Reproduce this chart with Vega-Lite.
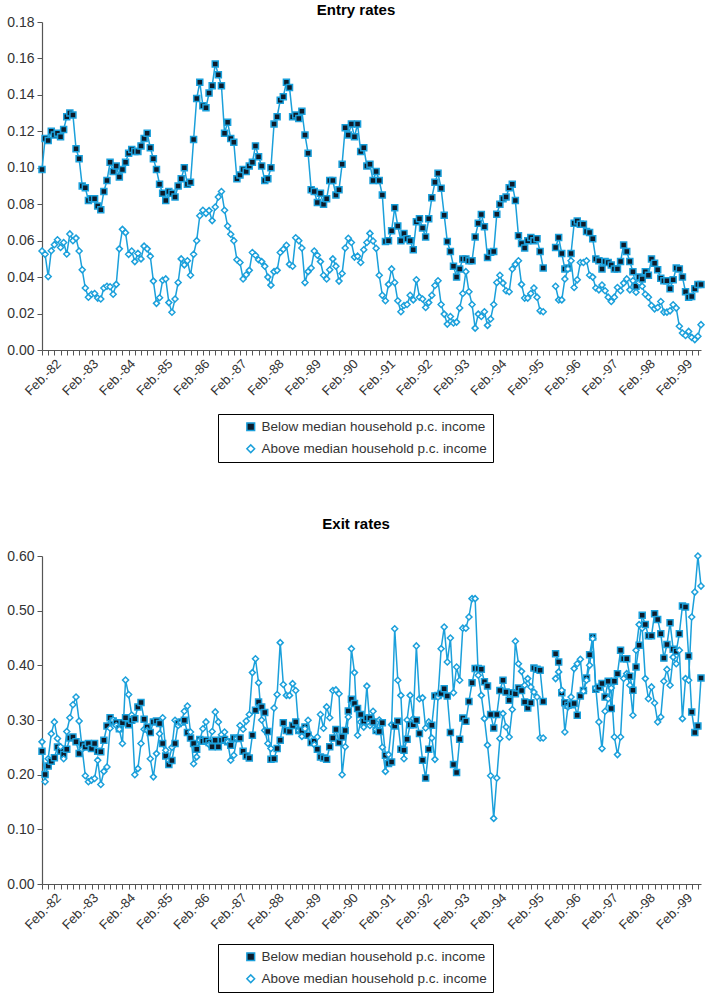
{
  "$schema": "https://vega.github.io/schema/vega-lite/v6.json",
  "padding": {"left": 5, "top": 3, "right": 4, "bottom": 2},
  "config": {
    "font": "Liberation Sans",
    "view": {"stroke": null},
    "axis": {"domainColor": "#555", "tickColor": "#555", "labelColor": "#333", "labelFont": "Liberation Sans", "grid": false, "tickSize": 5, "title": null, "domainWidth": 1.2},
    "title": {"font": "Liberation Sans", "fontSize": 15, "fontWeight": "bold", "color": "#000", "frame": "bounds", "anchor": "middle"}
  },
  "datasets": {
    "entry": [
{"m":0,"below":0.099,"above":0.0543},{"m":1,"below":0.116,"above":0.0525},{"m":2,"below":0.115,"above":0.0403},{"m":3,"below":0.120,"above":0.0545},{"m":4,"below":0.118,"above":0.0578},{"m":5,"below":0.119,"above":0.0605},{"m":6,"below":0.117,"above":0.0563},{"m":7,"below":0.121,"above":0.059},{"m":8,"below":0.128,"above":0.0527},{"m":9,"below":0.130,"above":0.0637},
{"m":10,"below":0.129,"above":0.060},{"m":11,"below":0.1105,"above":0.0614},{"m":12,"below":0.105,"above":0.0543},{"m":13,"below":0.090,"above":0.044},{"m":14,"below":0.089,"above":0.034},{"m":15,"below":0.082,"above":0.029},{"m":16,"below":0.083,"above":0.0306},{"m":17,"below":0.083,"above":0.031},{"m":18,"below":0.079,"above":0.0285},{"m":19,"below":0.077,"above":0.028},
{"m":20,"below":0.087,"above":0.034},{"m":21,"below":0.093,"above":0.035},{"m":22,"below":0.103,"above":0.0347},{"m":23,"below":0.098,"above":0.0306},{"m":24,"below":0.101,"above":0.036},{"m":25,"below":0.095,"above":0.0555},{"m":26,"below":0.099,"above":0.0662},{"m":27,"below":0.103,"above":0.0644},{"m":28,"below":0.108,"above":0.0525},{"m":29,"below":0.110,"above":0.0543},
{"m":30,"below":0.109,"above":0.0485},{"m":31,"below":0.109,"above":0.053},{"m":32,"below":0.112,"above":0.050},{"m":33,"below":0.116,"above":0.057},{"m":34,"below":0.119,"above":0.0555},{"m":35,"below":0.111,"above":0.0515},{"m":36,"below":0.105,"above":0.0378},{"m":37,"below":0.099,"above":0.0256},{"m":38,"below":0.091,"above":0.0287},{"m":39,"below":0.086,"above":0.0383},
{"m":40,"below":0.082,"above":0.039},{"m":41,"below":0.087,"above":0.026},{"m":42,"below":0.086,"above":0.0207},{"m":43,"below":0.084,"above":0.028},{"m":44,"below":0.090,"above":0.037},{"m":45,"below":0.094,"above":0.050},{"m":46,"below":0.100,"above":0.0467},{"m":47,"below":0.091,"above":0.049},{"m":48,"below":0.092,"above":0.041},{"m":49,"below":0.1155,"above":0.0525},
{"m":50,"below":0.138,"above":0.060},{"m":51,"below":0.147,"above":0.0737},{"m":52,"below":0.134,"above":0.0767},{"m":53,"below":0.133,"above":0.075},{"m":54,"below":0.141,"above":0.0765},{"m":55,"below":0.145,"above":0.071},{"m":56,"below":0.157,"above":0.0785},{"m":57,"below":0.151,"above":0.084},{"m":58,"below":0.145,"above":0.087},{"m":59,"below":0.119,"above":0.0767},
{"m":60,"below":0.125,"above":0.068},{"m":61,"below":0.116,"above":0.0635},{"m":62,"below":0.114,"above":0.060},{"m":63,"below":0.094,"above":0.0495},{"m":64,"below":0.096,"above":0.048},{"m":65,"below":0.099,"above":0.039},{"m":66,"below":0.098,"above":0.0413},{"m":67,"below":0.101,"above":0.0437},{"m":68,"below":0.103,"above":0.0535},{"m":69,"below":0.112,"above":0.052},
{"m":70,"below":0.106,"above":0.0495},{"m":71,"below":0.101,"above":0.0485},{"m":72,"below":0.093,"above":0.046},{"m":73,"below":0.094,"above":0.040},{"m":74,"below":0.100,"above":0.0356},{"m":75,"below":0.124,"above":0.043},{"m":76,"below":0.128,"above":0.0437},{"m":77,"below":0.137,"above":0.0535},{"m":78,"below":0.139,"above":0.0553},{"m":79,"below":0.147,"above":0.0575},
{"m":80,"below":0.144,"above":0.047},{"m":81,"below":0.128,"above":0.046},{"m":82,"below":0.129,"above":0.0616},{"m":83,"below":0.127,"above":0.060},{"m":84,"below":0.131,"above":0.056},{"m":85,"below":0.118,"above":0.037},{"m":86,"below":0.108,"above":0.043},{"m":87,"below":0.088,"above":0.045},{"m":88,"below":0.087,"above":0.0543},{"m":89,"below":0.081,"above":0.052},
{"m":90,"below":0.086,"above":0.0485},{"m":91,"below":0.080,"above":0.041},{"m":92,"below":0.083,"above":0.039},{"m":93,"below":0.093,"above":0.044},{"m":94,"below":0.093,"above":0.050},{"m":95,"below":0.085,"above":0.046},{"m":96,"below":0.088,"above":0.0378},{"m":97,"below":0.102,"above":0.042},{"m":98,"below":0.122,"above":0.056},{"m":99,"below":0.118,"above":0.0613},
{"m":100,"below":0.124,"above":0.059},{"m":101,"below":0.117,"above":0.051},{"m":102,"below":0.124,"above":0.0515},{"m":103,"below":0.109,"above":0.048},{"m":104,"below":0.111,"above":0.055},{"m":105,"below":0.101,"above":0.059},{"m":106,"below":0.102,"above":0.064},{"m":107,"below":0.093,"above":0.0598},{"m":108,"below":0.098,"above":0.0558},{"m":109,"below":0.093,"above":0.041},
{"m":110,"below":0.085,"above":0.030},{"m":111,"below":0.0595,"above":0.027},{"m":112,"below":0.060,"above":0.036},{"m":113,"below":0.0655,"above":0.0445},{"m":114,"below":0.078,"above":0.037},{"m":115,"below":0.068,"above":0.027},{"m":116,"below":0.060,"above":0.021},{"m":117,"below":0.064,"above":0.0244},{"m":118,"below":0.061,"above":0.025},{"m":119,"below":0.060,"above":0.030},
{"m":120,"below":0.055,"above":0.0275},{"m":121,"below":0.0704,"above":0.0385},{"m":122,"below":0.072,"above":0.029},{"m":123,"below":0.067,"above":0.028},{"m":124,"below":0.062,"above":0.0233},{"m":125,"below":0.072,"above":0.026},{"m":126,"below":0.0835,"above":0.030},{"m":127,"below":0.092,"above":0.0354},{"m":128,"below":0.097,"above":0.038},{"m":129,"below":0.0887,"above":0.025},
{"m":130,"below":0.074,"above":0.0197},{"m":131,"below":0.0595,"above":0.0142},{"m":132,"below":0.054,"above":0.0184},{"m":133,"below":0.046,"above":0.0148},{"m":134,"below":0.040,"above":0.0153},{"m":135,"below":0.0445,"above":0.023},{"m":136,"below":0.050,"above":0.031},{"m":137,"below":0.050,"above":0.043},{"m":138,"below":0.049,"above":0.032},{"m":139,"below":0.049,"above":0.025},
{"m":140,"below":0.062,"above":0.012},{"m":141,"below":0.0695,"above":0.0197},{"m":142,"below":0.0744,"above":0.0184},{"m":143,"below":0.0677,"above":0.021},{"m":144,"below":0.0507,"above":0.0135},{"m":145,"below":0.0536,"above":0.017},{"m":146,"below":0.054,"above":0.025},{"m":147,"below":0.0745,"above":0.037},{"m":148,"below":0.080,"above":0.041},{"m":149,"below":0.083,"above":0.0367},
{"m":150,"below":0.084,"above":0.0325},{"m":151,"below":0.089,"above":0.032},{"m":152,"below":0.091,"above":0.0445},{"m":153,"below":0.082,"above":0.047},{"m":154,"below":0.0627,"above":0.049},{"m":155,"below":0.0585,"above":0.036},{"m":156,"below":0.056,"above":0.0285},{"m":157,"below":0.060,"above":0.0285},{"m":158,"below":0.0617,"above":0.031},{"m":159,"below":0.060,"above":0.034},
{"m":160,"below":0.061,"above":0.029},{"m":161,"below":0.054,"above":0.0215},{"m":162,"below":0.045,"above":0.021},{"m":163,"below":null,"above":null},{"m":164,"below":null,"above":null},{"m":165,"below":null,"above":null},{"m":166,"below":0.0562,"above":0.035},{"m":167,"below":0.0617,"above":0.0275},{"m":168,"below":0.053,"above":0.0275},{"m":169,"below":0.0445,"above":0.039},
{"m":170,"below":0.045,"above":0.0445},{"m":171,"below":0.053,"above":0.049},{"m":172,"below":0.0695,"above":0.0343},{"m":173,"below":0.0708,"above":0.0385},{"m":174,"below":0.069,"above":0.048},{"m":175,"below":0.069,"above":0.048},{"m":176,"below":0.065,"above":0.049},{"m":177,"below":0.0645,"above":0.041},{"m":178,"below":0.061,"above":0.040},{"m":179,"below":0.050,"above":0.034},
{"m":180,"below":0.049,"above":0.033},{"m":181,"below":0.0445,"above":0.0357},{"m":182,"below":0.0485,"above":0.0325},{"m":183,"below":0.048,"above":0.029},{"m":184,"below":0.0467,"above":0.0266},{"m":185,"below":0.0445,"above":0.029},{"m":186,"below":0.0445,"above":0.0343},{"m":187,"below":0.0485,"above":0.0325},{"m":188,"below":0.0576,"above":0.0367},{"m":189,"below":0.054,"above":0.039},
{"m":190,"below":0.0485,"above":0.033},{"m":191,"below":0.043,"above":0.038},{"m":192,"below":0.035,"above":0.0317},{"m":193,"below":0.040,"above":0.037},{"m":194,"below":0.039,"above":0.035},{"m":195,"below":0.043,"above":0.0306},{"m":196,"below":0.041,"above":0.029},{"m":197,"below":0.050,"above":0.0244},{"m":198,"below":0.0476,"above":0.0226},{"m":199,"below":0.044,"above":0.0233},
{"m":200,"below":0.0394,"above":0.0266},{"m":201,"below":0.038,"above":0.0208},{"m":202,"below":0.038,"above":0.0208},{"m":203,"below":0.0336,"above":0.0215},{"m":204,"below":0.0385,"above":0.0248},{"m":205,"below":0.045,"above":0.023},{"m":206,"below":0.0445,"above":0.013},{"m":207,"below":0.040,"above":0.0093},{"m":208,"below":0.032,"above":0.008},{"m":209,"below":0.029,"above":0.0102},
{"m":210,"below":0.0294,"above":0.0069},{"m":211,"below":0.0336,"above":0.0057},{"m":212,"below":0.036,"above":0.0075},{"m":213,"below":0.036,"above":0.0139}
    ],
    "exit": [
{"m":0,"below":0.243,"above":0.26},{"m":1,"below":0.2005,"above":0.187},{"m":2,"below":0.216,"above":0.229},{"m":3,"below":0.2245,"above":0.275},{"m":4,"below":0.231,"above":0.2965},{"m":5,"below":0.2505,"above":0.266},{"m":6,"below":0.243,"above":0.251},{"m":7,"below":0.237,"above":0.229},{"m":8,"below":0.2465,"above":0.279},{"m":9,"below":0.267,"above":0.304},
{"m":10,"below":0.269,"above":0.328},{"m":11,"below":0.260,"above":0.342},{"m":12,"below":0.2385,"above":0.298},{"m":13,"below":0.255,"above":0.2465},{"m":14,"below":0.2508,"above":0.198},{"m":15,"below":0.257,"above":0.187},{"m":16,"below":0.2477,"above":0.19},{"m":17,"below":0.257,"above":0.193},{"m":18,"below":0.243,"above":0.2265},{"m":19,"below":0.2417,"above":0.182},
{"m":20,"below":0.263,"above":0.206},{"m":21,"below":0.289,"above":0.214},{"m":22,"below":0.304,"above":0.285},{"m":23,"below":0.298,"above":0.30},{"m":24,"below":0.295,"above":0.29},{"m":25,"below":0.284,"above":0.283},{"m":26,"below":0.295,"above":0.257},{"m":27,"below":0.304,"above":0.373},{"m":28,"below":0.2915,"above":0.3465},{"m":29,"below":0.2995,"above":0.309},
{"m":30,"below":0.3025,"above":0.200},{"m":31,"below":0.324,"above":0.211},{"m":32,"below":0.332,"above":0.257},{"m":33,"below":0.3013,"above":0.283},{"m":34,"below":0.287,"above":0.281},{"m":35,"below":0.277,"above":0.229},{"m":36,"below":0.2965,"above":0.196},{"m":37,"below":0.298,"above":0.2385},{"m":38,"below":0.2935,"above":0.275},{"m":39,"below":0.257,"above":0.304},
{"m":40,"below":0.234,"above":0.2447},{"m":41,"below":0.2185,"above":0.2265},{"m":42,"below":0.226,"above":0.25},{"m":43,"below":0.257,"above":0.2995},{"m":44,"below":0.2935,"above":0.29},{"m":45,"below":0.2965,"above":0.295},{"m":46,"below":0.2995,"above":0.316},{"m":47,"below":0.277,"above":0.3257},{"m":48,"below":0.267,"above":0.278},{"m":49,"below":0.257,"above":0.22},
{"m":50,"below":0.2465,"above":0.2325},{"m":51,"below":0.2645,"above":0.263},{"m":52,"below":0.261,"above":0.284},{"m":53,"below":0.263,"above":0.2965},{"m":54,"below":0.2587,"above":0.255},{"m":55,"below":0.251,"above":0.279},{"m":56,"below":0.263,"above":0.3148},{"m":57,"below":0.251,"above":0.2965},{"m":58,"below":0.263,"above":0.273},{"m":59,"below":0.2645,"above":0.278},
{"m":60,"below":0.26,"above":0.26},{"m":61,"below":0.254,"above":0.2265},{"m":62,"below":0.267,"above":0.2355},{"m":63,"below":0.266,"above":0.266},{"m":64,"below":0.267,"above":0.29},{"m":65,"below":0.243,"above":0.283},{"m":66,"below":0.234,"above":0.298},{"m":67,"below":0.2306,"above":0.31},{"m":68,"below":0.272,"above":0.3867},{"m":69,"below":0.318,"above":0.412},
{"m":70,"below":0.333,"above":0.368},{"m":71,"below":0.324,"above":0.30},{"m":72,"below":0.3135,"above":0.281},{"m":73,"below":0.279,"above":0.257},{"m":74,"below":0.228,"above":0.2477},{"m":75,"below":0.229,"above":0.322},{"m":76,"below":0.2477,"above":0.3465},{"m":77,"below":0.263,"above":0.4415},{"m":78,"below":0.295,"above":0.365},{"m":79,"below":0.281,"above":0.345},
{"m":80,"below":0.279,"above":0.345},{"m":81,"below":0.290,"above":0.3665},{"m":82,"below":0.2965,"above":0.354},{"m":83,"below":0.281,"above":0.281},{"m":84,"below":0.281,"above":0.27},{"m":85,"below":0.287,"above":0.284},{"m":86,"below":0.272,"above":0.2995},{"m":87,"below":0.2587,"above":0.267},{"m":88,"below":0.261,"above":0.255},{"m":89,"below":0.2465,"above":0.269},
{"m":90,"below":0.2325,"above":0.31},{"m":91,"below":0.2306,"above":0.285},{"m":92,"below":0.228,"above":0.324},{"m":93,"below":0.251,"above":0.304},{"m":94,"below":0.267,"above":0.354},{"m":95,"below":0.2825,"above":0.355},{"m":96,"below":0.2587,"above":0.348},{"m":97,"below":0.269,"above":0.200},{"m":98,"below":0.281,"above":0.251},{"m":99,"below":0.3166,"above":0.3055},
{"m":100,"below":0.338,"above":0.4305},{"m":101,"below":0.33,"above":0.3867},{"m":102,"below":0.321,"above":0.272},{"m":103,"below":0.31,"above":0.2965},{"m":104,"below":0.2977,"above":0.287},{"m":105,"below":0.3035,"above":0.362},{"m":106,"below":0.3035,"above":0.29},{"m":107,"below":0.2965,"above":0.316},{"m":108,"below":0.281,"above":0.2827},{"m":109,"below":0.279,"above":0.30},
{"m":110,"below":0.295,"above":0.25},{"m":111,"below":0.2355,"above":0.206},{"m":112,"below":0.2203,"above":0.2367},{"m":113,"below":0.2233,"above":0.2915},{"m":114,"below":0.289,"above":0.467},{"m":115,"below":0.2977,"above":0.3727},{"m":116,"below":0.2465,"above":0.345},{"m":117,"below":0.2447,"above":0.229},{"m":118,"below":0.2647,"above":0.30},{"m":119,"below":0.2915,"above":0.345},
{"m":120,"below":0.2915,"above":0.3025},{"m":121,"below":0.2995,"above":0.4355},{"m":122,"below":0.2752,"above":0.339},{"m":123,"below":0.2264,"above":0.3405},{"m":124,"below":0.194,"above":0.2855},{"m":125,"below":0.2465,"above":0.2965},{"m":126,"below":0.2904,"above":0.267},{"m":127,"below":0.344,"above":0.228},{"m":128,"below":0.345,"above":0.342},{"m":129,"below":0.3483,"above":0.4305},
{"m":130,"below":0.357,"above":0.47},{"m":131,"below":0.344,"above":0.406},{"m":132,"below":0.277,"above":0.45},{"m":133,"below":0.2185,"above":0.35},{"m":134,"below":0.204,"above":0.397},{"m":135,"below":0.2647,"above":0.3727},{"m":136,"below":0.3035,"above":0.468},{"m":137,"below":0.2977,"above":0.468},{"m":138,"below":0.334,"above":0.4885},{"m":139,"below":0.368,"above":0.522},
{"m":140,"below":0.394,"above":0.522},{"m":141,"below":0.394,"above":0.3818},{"m":142,"below":0.3927,"above":0.345},{"m":143,"below":0.37,"above":0.3025},{"m":144,"below":0.362,"above":0.254},{"m":145,"below":0.31,"above":0.198},{"m":146,"below":0.2855,"above":0.12},{"m":147,"below":0.31,"above":0.194},{"m":148,"below":0.354,"above":0.266},{"m":149,"below":0.3727,"above":0.3117},
{"m":150,"below":0.351,"above":0.2873},{"m":151,"below":0.336,"above":0.269},{"m":152,"below":0.35,"above":0.3193},{"m":153,"below":0.348,"above":0.444},{"m":154,"below":0.3585,"above":0.403},{"m":155,"below":0.354,"above":0.389},{"m":156,"below":0.333,"above":0.3636},{"m":157,"below":0.322,"above":0.3757},{"m":158,"below":0.3315,"above":0.3605},{"m":159,"below":0.395,"above":0.351},
{"m":160,"below":0.393,"above":0.342},{"m":161,"below":0.391,"above":0.267},{"m":162,"below":0.334,"above":0.267},{"m":163,"below":null,"above":null},{"m":164,"below":null,"above":null},{"m":165,"below":null,"above":null},{"m":166,"below":0.4213,"above":0.3757},{"m":167,"below":0.406,"above":0.388},{"m":168,"below":0.35,"above":0.3545},{"m":169,"below":0.3315,"above":0.278},
{"m":170,"below":0.327,"above":0.324},{"m":171,"below":0.328,"above":0.342},{"m":172,"below":0.33,"above":0.394},{"m":173,"below":0.3087,"above":0.403},{"m":174,"below":0.344,"above":0.411},{"m":175,"below":0.354,"above":0.3525},{"m":176,"below":0.3768,"above":0.3727},{"m":177,"below":0.4195,"above":0.40},{"m":178,"below":0.452,"above":0.4488},{"m":179,"below":0.3563,"above":0.3587},
{"m":180,"below":0.36,"above":0.2965},{"m":181,"below":0.3666,"above":0.2477},{"m":182,"below":0.342,"above":0.316},{"m":183,"below":0.371,"above":0.339},{"m":184,"below":0.321,"above":0.3585},{"m":185,"below":0.371,"above":0.269},{"m":186,"below":0.3848,"above":0.2367},{"m":187,"below":0.4275,"above":0.269},{"m":188,"below":0.412,"above":0.376},{"m":189,"below":0.412,"above":0.3848},
{"m":190,"below":0.38,"above":0.3636},{"m":191,"below":0.3545,"above":0.3087},{"m":192,"below":0.397,"above":0.4275},{"m":193,"below":0.4366,"above":0.4745},{"m":194,"below":0.4915,"above":0.468},{"m":195,"below":0.4745,"above":0.3757},{"m":196,"below":0.454,"above":0.339},{"m":197,"below":0.454,"above":0.3605},{"m":198,"below":0.4945,"above":0.331},{"m":199,"below":0.484,"above":0.2965},
{"m":200,"below":0.458,"above":0.3056},{"m":201,"below":0.4132,"above":0.3708},{"m":202,"below":0.438,"above":0.3925},{"m":203,"below":0.478,"above":0.3636},{"m":204,"below":0.4293,"above":0.415},{"m":205,"below":0.4256,"above":0.403},{"m":206,"below":0.458,"above":0.4275},{"m":207,"below":0.5085,"above":0.3025},{"m":208,"below":0.5067,"above":0.3757},{"m":209,"below":0.417,"above":0.3727},
{"m":210,"below":0.3148,"above":0.4885},{"m":211,"below":0.277,"above":0.534},{"m":212,"below":0.289,"above":0.60},{"m":213,"below":0.3768,"above":0.545}
    ]
  },
  "spacing": 54,
  "resolve": {
    "scale": {"color": "independent", "fill": "independent", "shape": "independent"},
    "legend": {"color": "independent", "fill": "independent", "shape": "independent"}
  },
  "vconcat": [
    {
      "title": {"text": "Entry rates", "offset": -3},
      "width": 659,
      "height": 328,
      "data": {"name": "entry"},
      "transform": [{"fold": ["below", "above"], "as": ["series", "value"]}],
      "encoding": {
        "x": {"field": "m", "type": "quantitative", "scale": {"domain": [0, 213], "nice": false, "zero": false},
          "axis": {"tickCount": 107, "labelExpr": "(datum.value - 4) % 12 === 0 ? 'Feb.-' + (82 + (datum.value - 4) / 12) : ''", "labelAngle": -45, "labelAlign": "right", "labelBaseline": "top", "labelFontSize": 13, "labelOverlap": false, "labelFlush": false, "labelPadding": 2, "title": null}},
        "y": {"field": "value", "type": "quantitative", "scale": {"domain": [0, 0.18], "nice": false},
          "axis": {"values": [0, 0.02, 0.04, 0.06, 0.08, 0.1, 0.12, 0.14, 0.16, 0.18], "format": ".2f", "labelFontSize": 14, "labelPadding": 3, "minExtent": 37, "maxExtent": 37, "title": null}},
        "color": {"field": "series", "type": "nominal", "scale": {"domain": ["below", "above"], "range": ["#1ba0db", "#1ba0db"]},
          "legend": {"title": null, "orient": "none", "legendX": 176, "legendY": 392, "direction": "vertical", "strokeColor": "#000", "fillColor": "#fff", "padding": 6, "labelFontSize": 13.5, "labelColor": "#333", "labelFont": "Liberation Sans", "rowPadding": 7, "symbolSize": 60, "labelOffset": 4, "symbolOffset": 20, "symbolStrokeWidth": 1.5, "labelLimit": 0,
            "labelExpr": "datum.value === 'below' ? 'Below median household p.c. income' : 'Above median household p.c. income'"}}
      },
      "layer": [
        {"mark": {"type": "line", "strokeWidth": 1.5, "invalid": "break-paths-show-domains"}},
        {"mark": {"type": "point", "strokeWidth": 1.5, "opacity": 1, "size": 36},
          "encoding": {
            "shape": {"field": "series", "type": "nominal", "scale": {"domain": ["below", "above"], "range": ["square", "diamond"]}, "legend": null},
            "fill": {"field": "series", "type": "nominal", "scale": {"domain": ["below", "above"], "range": ["#0e1c2b", "#ffffff"]}, "legend": null}
          }}
      ]
    },
    {
      "title": {"text": "Exit rates", "offset": 17},
      "width": 659,
      "height": 328,
      "data": {"name": "exit"},
      "transform": [{"fold": ["below", "above"], "as": ["series", "value"]}],
      "encoding": {
        "x": {"field": "m", "type": "quantitative", "scale": {"domain": [0, 213], "nice": false, "zero": false},
          "axis": {"tickCount": 107, "labelExpr": "(datum.value - 4) % 12 === 0 ? 'Feb.-' + (82 + (datum.value - 4) / 12) : ''", "labelAngle": -45, "labelAlign": "right", "labelBaseline": "top", "labelFontSize": 13, "labelOverlap": false, "labelFlush": false, "labelPadding": 2, "title": null}},
        "y": {"field": "value", "type": "quantitative", "scale": {"domain": [0, 0.6], "nice": false},
          "axis": {"values": [0, 0.1, 0.2, 0.3, 0.4, 0.5, 0.6], "format": ".2f", "labelFontSize": 14, "labelPadding": 3, "minExtent": 37, "maxExtent": 37, "title": null}},
        "color": {"field": "series", "type": "nominal", "scale": {"domain": ["below", "above"], "range": ["#1ba0db", "#1ba0db"]},
          "legend": {"title": null, "orient": "none", "legendX": 176, "legendY": 388, "direction": "vertical", "strokeColor": "#000", "fillColor": "#fff", "padding": 6, "labelFontSize": 13.5, "labelColor": "#333", "labelFont": "Liberation Sans", "rowPadding": 7, "symbolSize": 60, "labelOffset": 4, "symbolOffset": 20, "symbolStrokeWidth": 1.5, "labelLimit": 0,
            "labelExpr": "datum.value === 'below' ? 'Below median household p.c. income' : 'Above median household p.c. income'"}}
      },
      "layer": [
        {"mark": {"type": "line", "strokeWidth": 1.5, "invalid": "break-paths-show-domains"}},
        {"mark": {"type": "point", "strokeWidth": 1.5, "opacity": 1, "size": 36},
          "encoding": {
            "shape": {"field": "series", "type": "nominal", "scale": {"domain": ["below", "above"], "range": ["square", "diamond"]}, "legend": null},
            "fill": {"field": "series", "type": "nominal", "scale": {"domain": ["below", "above"], "range": ["#0e1c2b", "#ffffff"]}, "legend": null}
          }}
      ]
    }
  ]
}
